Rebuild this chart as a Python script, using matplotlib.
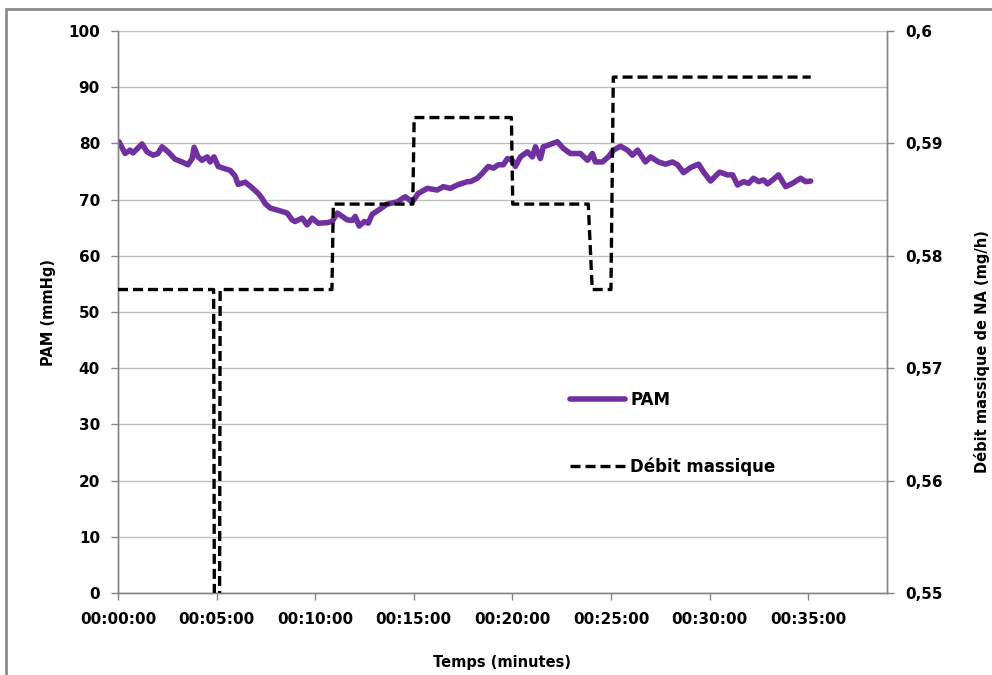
import matplotlib
matplotlib.use("Agg")
import matplotlib.pyplot as plt
from matplotlib.patches import Rectangle
from matplotlib.ticker import FuncFormatter, MultipleLocator

plt.rcParams['font.family'] = ['DejaVu Sans']

# PAM (mmHg) over time (minutes)
pam_t = [0.05, 0.36, 0.61, 0.76, 1.22, 1.47, 1.78, 2.03, 2.23, 2.54, 2.89, 3.25, 3.55, 3.76,
         3.86, 4.06, 4.26, 4.52, 4.67, 4.87, 5.08, 5.33, 5.69, 5.94, 6.09, 6.45, 6.80, 7.11,
         7.31, 7.46, 7.72, 8.12, 8.58, 8.83, 8.98, 9.34, 9.59, 9.85, 10.15, 10.61, 10.86,
         11.12, 11.42, 11.62, 11.88, 12.03, 12.23, 12.49, 12.69, 12.89, 13.20, 13.65, 14.16,
         14.57, 14.92, 15.23, 15.69, 16.19, 16.50, 16.85, 17.21, 17.72, 17.87, 18.22, 18.48,
         18.78, 19.04, 19.29, 19.54, 19.75, 20.00, 20.15, 20.41, 20.76, 21.02, 21.17, 21.42,
         21.57, 21.83, 22.28, 22.59, 22.94, 23.45, 23.81, 24.06, 24.21, 24.57, 24.87, 25.13,
         25.48, 25.84, 26.09, 26.35, 26.75, 27.01, 27.41, 27.77, 28.12, 28.38, 28.68, 29.04,
         29.44, 29.70, 30.05, 30.51, 30.91, 31.17, 31.42, 31.73, 31.98, 32.23, 32.49, 32.74,
         32.94, 33.20, 33.50, 33.86, 34.21, 34.62, 34.87, 35.13]
pam_v = [80.3, 78.2, 78.8, 78.3, 79.9, 78.5, 77.9, 78.2, 79.4, 78.5, 77.2, 76.7, 76.2, 77.3,
         79.3, 77.6, 77.0, 77.6, 76.7, 77.6, 75.9, 75.6, 75.2, 74.2, 72.7, 73.1, 72.1, 71.1,
         70.2, 69.3, 68.5, 68.1, 67.6, 66.4, 66.1, 66.7, 65.5, 66.7, 65.8, 65.9, 66.1,
         67.6, 66.9, 66.4, 66.3, 67.0, 65.3, 66.1, 65.8, 67.4, 68.1, 69.2, 69.6,
         70.5, 69.6, 71.1, 72.0, 71.7, 72.3, 72.0, 72.6, 73.2, 73.2, 73.8, 74.7,
         75.9, 75.6, 76.2, 76.2, 77.3, 77.0, 75.9, 77.6, 78.5, 77.6, 79.4, 77.3,
         79.4, 79.7, 80.3, 79.1, 78.2, 78.2, 77.0, 78.2, 76.7, 76.7, 77.6, 78.8,
         79.5, 78.8, 77.9, 78.8, 76.7, 77.6, 76.7, 76.3, 76.7, 76.2, 74.8, 75.7,
         76.3, 74.9, 73.3, 74.9, 74.4, 74.4, 72.6, 73.2, 72.9, 73.8, 73.2, 73.5,
         72.8, 73.5, 74.4, 72.3, 72.9, 73.8, 73.2, 73.3]

# Débit massique de NA (mg/h)
deb_t = [0, 4.85, 4.95, 5.10, 5.18, 10.85, 10.92, 14.95, 15.02, 19.95, 20.02, 23.85, 24.05,
         25.0, 25.12, 35.13]
deb_v = [0.577, 0.577, 0.50, 0.50, 0.577, 0.577, 0.5846, 0.5846, 0.5923, 0.5923, 0.5846,
         0.5846, 0.577, 0.577, 0.5959, 0.5959]

x_ticks = [0, 5, 10, 15, 20, 25, 30, 35]
x_ticklabels = ["00:00:00", "00:05:00", "00:10:00", "00:15:00", "00:20:00", "00:25:00",
                "00:30:00", "00:35:00"]

GRID = '#bfbfbf'
SPINE = '#868686'
PURPLE = '#7030a0'

fig = plt.figure(figsize=(9.92, 6.75), dpi=100)
ax = fig.add_axes([118/992, 1-593/675, (887-118)/992, (593-31)/675])
ax2 = ax.twinx()

ax.set_xlim(0, 39)
ax.set_ylim(0, 100)
ax2.set_ylim(0.55, 0.6)

ax.yaxis.set_major_locator(MultipleLocator(10))
ax2.yaxis.set_major_locator(MultipleLocator(0.01))
ax2.yaxis.set_major_formatter(FuncFormatter(lambda v, p: ('%.2f' % v).rstrip('0').replace('.', ',')))
ax.set_xticks(x_ticks)
ax.set_xticklabels(x_ticklabels)

ax.grid(axis='y', color=GRID, lw=1.0)
ax.set_axisbelow(True)

l1, = ax.plot(pam_t, pam_v, color=PURPLE, lw=4.0, solid_capstyle='round',
              solid_joinstyle='round', label='PAM', zorder=3)
l2, = ax2.plot(deb_t, deb_v, color='black', lw=2.4, dashes=(3, 1.5),
               dash_capstyle='butt', label='Débit massique', zorder=4)

for a in (ax, ax2):
    for s in a.spines.values():
        s.set_color(SPINE)
        s.set_linewidth(1.0)
    a.spines['top'].set_visible(False)
    a.tick_params(colors=SPINE, length=5, width=1.0, direction='out')
    a.tick_params(labelcolor='black', labelsize=11)
    for lab in a.get_xticklabels() + a.get_yticklabels():
        lab.set_fontweight('bold')

ax.tick_params(axis='y', pad=8)
ax2.tick_params(axis='y', pad=8)
ax.tick_params(axis='x', pad=9)

ax.set_xlabel('Temps (minutes)', fontsize=10.5, fontweight='bold', labelpad=20)
ax.set_ylabel('PAM (mmHg)', fontsize=10.5, fontweight='bold', labelpad=9)
ax2.set_ylabel('Débit massique de NA (mg/h)', fontsize=10.5, fontweight='bold')
ax2.yaxis.set_label_coords(1.1135, 0.43)

leg = ax2.legend(handles=[l1, l2], loc='center left', bbox_to_anchor=(0.588, 0.284),
                 frameon=False, prop={'weight': 'bold', 'size': 12},
                 handlelength=3.3, handletextpad=0.3, labelspacing=2.9,
                 borderpad=0, borderaxespad=0)

fig.patches.append(Rectangle((6/992, -0.1), 2, 1 - 9/675 + 0.1, transform=fig.transFigure,
                             fill=False, edgecolor='#8c8c8c', lw=2))

fig.savefig('out.png', dpi=100)
